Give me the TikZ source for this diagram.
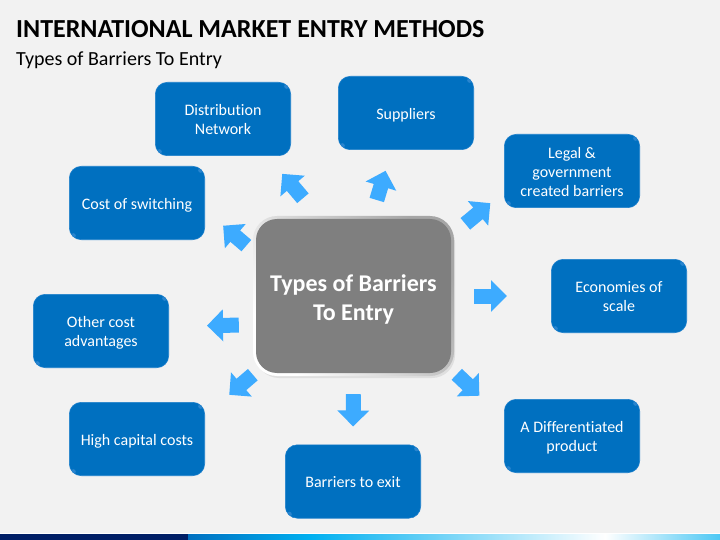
\documentclass[tikz,border=0pt]{standalone}
\usepackage{fontspec}
\setmainfont[Ligatures=CommonOff]{Carlito}
\usetikzlibrary{arrows.meta}

\definecolor{pagegray}{HTML}{F2F2F2}
\definecolor{boxblue}{HTML}{0070C0}
\definecolor{boxedge}{HTML}{1E80CC}
\definecolor{boxglint}{HTML}{2A85CF}
\definecolor{hubgray}{HTML}{7F7F7F}
\definecolor{arrowblue}{HTML}{3DABFF}
\definecolor{barnavy}{HTML}{001F66}
\definecolor{barcyan}{HTML}{00B0F0}

\tikzset{
  topicbox/.style={draw=boxedge, line width=0.6pt, fill=boxblue, rounded corners=12pt,
    minimum width=135.4pt, minimum height=73.4pt, inner sep=0pt, align=center, text=white,
    font=\fontsize{16}{19}\selectfont, text height=15.5pt, text depth=3pt,
    path picture={
      \fill[boxglint] ([shift={(4pt,4pt)}]path picture bounding box.south west) circle (2.5pt);
      \fill[boxglint] ([shift={(-4pt,-4pt)}]path picture bounding box.north east) circle (2.5pt);
    }},
  tworows/.style={text height=34.5pt},
  threerows/.style={text height=53.5pt},
  fatarrow/.style={draw=arrowblue, line width=15pt, -{Triangle[width=31pt,length=16pt]}}
}

\begin{document}
\begin{tikzpicture}[x=1pt,y=-1pt]

\useasboundingbox (0,0) rectangle (720,540);

% Page background
\fill[pagegray] (0,0) rectangle (720,540);

% Title and subtitle
\node[anchor=west, inner sep=0pt, font=\fontsize{26}{30}\selectfont\bfseries] (title) at (16,29) {INTERNATIONAL MARKET ENTRY METHODS};
\node[anchor=west, inner sep=0pt, font=\fontsize{20}{24}\selectfont] (subtitle) at (16,60.5) {Types of Barriers To Entry};

% Bar at the bottom
\fill[white] (0,533) rectangle (720,534);
\fill[barnavy] (0,534) rectangle (188,540);
\shade[left color=boxblue, right color=barcyan] (188,534) rectangle (310,540);
\shade[left color=barcyan, right color=white] (310,534) rectangle (605,540);
\shade[left color=white, right color=barcyan!70] (605,534) rectangle (720,540);

% Raised rim of the middle block, then the block
\fill[gray!25, rounded corners=23pt] (256,220) rectangle (455,378);
\node[left color=white, right color=gray!70, shading angle=125, rounded corners=24pt,
  minimum width=201pt, minimum height=160pt] (hubrim) at (353.5,296) {};
\node[fill=hubgray, rounded corners=21pt, minimum width=195pt, minimum height=154pt, inner sep=0pt,
  align=center, text=white, font=\fontsize{24}{29}\selectfont\bfseries,
  text height=53.5pt, text depth=5.5pt] (hub) at (353.5,296) {Types of Barriers\\To Entry};

% Blocks around the middle block
\node[topicbox, tworows] (network) at (223,119) {Distribution\\Network};
\node[topicbox] (suppliers) at (406,113) {Suppliers};
\node[topicbox, threerows] (legal) at (572,171) {Legal \&\\government\\created barriers};
\node[topicbox, tworows] (scale) at (619,296) {Economies of\\scale};
\node[topicbox, tworows] (product) at (572,436) {A Differentiated\\product};
\node[topicbox] (exit) at (353,481.5) {Barriers to exit};
\node[topicbox] (capital) at (137,439) {High capital costs};
\node[topicbox, tworows] (advantages) at (101,331) {Other cost\\advantages};
\node[topicbox] (switching) at (137,203) {Cost of switching};

% Arrows going out of the middle block
\draw[fatarrow, shorten <=23pt, shorten >=23.4pt] (hubrim.114) -- (network.-40);
\draw[fatarrow, shorten <=16.5pt, shorten >=21.7pt] (hubrim.77) -- (suppliers.-111);
\draw[fatarrow, shorten <=14.5pt, shorten >=17.8pt] (hubrim.32.6) -- (legal.197);
\draw[fatarrow, shorten <=20pt, shorten >=44pt] (hubrim.east) -- (scale.west);
\draw[fatarrow, shorten <=3.5pt, shorten >=33.9pt] (hubrim.-37.4) -- (product.166);
\draw[fatarrow, shorten <=18pt, shorten >=18pt] (hubrim.south) -- (exit.north);
\draw[fatarrow, shorten <=0pt, shorten >=31.9pt] (hubrim.218.7) -- (capital.19.6);
\draw[fatarrow, shorten <=14pt, shorten >=38pt] (hubrim.196.9) -- (advantages.4.2);
\draw[fatarrow, shorten <=8.5pt, shorten >=23.9pt] (hubrim.156.9) -- (switching.-6);

\end{tikzpicture}
\end{document}
